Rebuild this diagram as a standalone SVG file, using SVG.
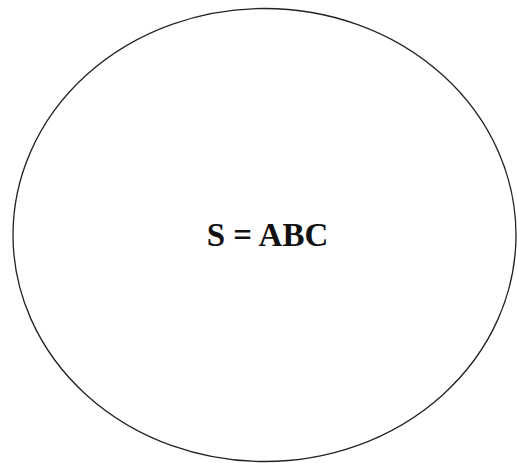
<svg xmlns="http://www.w3.org/2000/svg" width="517" height="463" viewBox="0 0 517 463">
<style>
.outline{fill:none;stroke:#222;stroke-width:1.3}
.lbl{font-family:"Liberation Serif","Times New Roman",serif;font-weight:bold;font-size:33px;fill:#111}
</style>
<rect width="517" height="463" fill="#fff"/>
<g id="set-S">
<ellipse class="outline" cx="264.5" cy="235" rx="251.5" ry="226.5"/>
<text class="lbl" x="267.5" y="246" text-anchor="middle">S = ABC</text>
</g>
</svg>
